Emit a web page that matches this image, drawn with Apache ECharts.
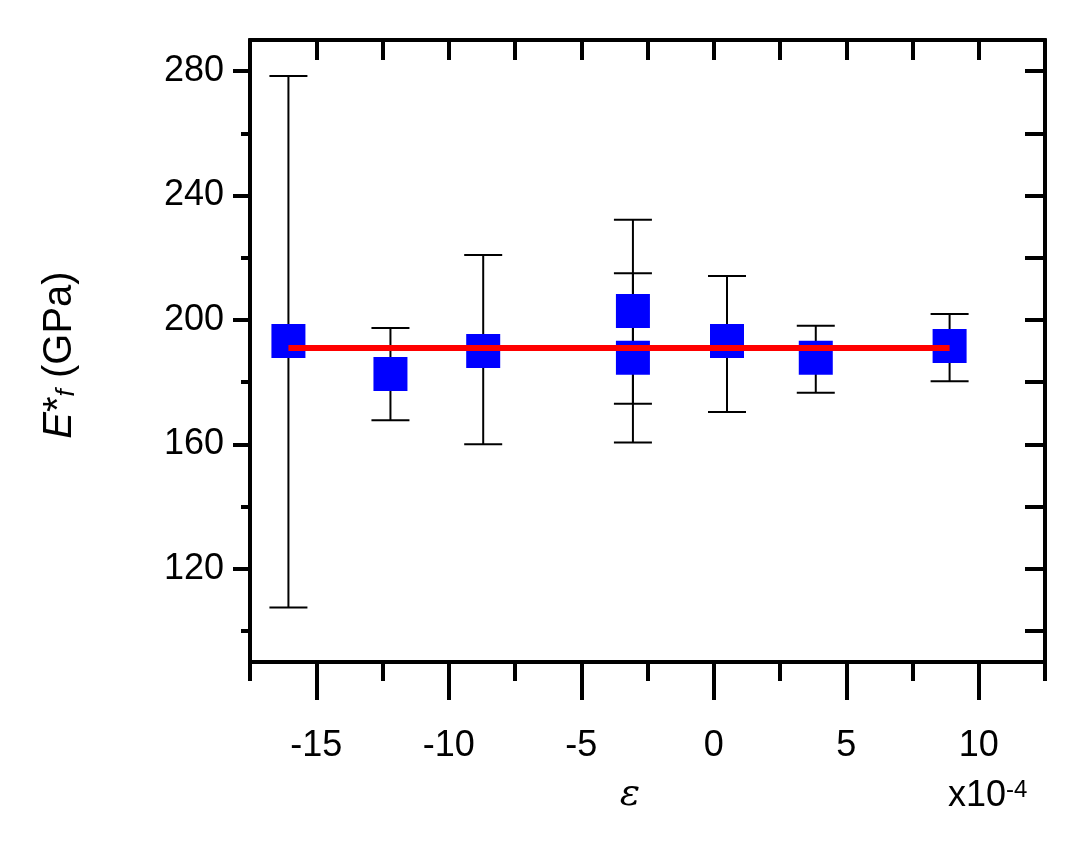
<!DOCTYPE html>
<html>
<head>
<meta charset="utf-8">
<script src="https://cdn.jsdelivr.net/npm/echarts@6/dist/echarts.min.js"></script>
<style>html,body{margin:0;padding:0;background:#fff}#main{width:1092px;height:854px}</style>
</head>
<body>
<div id="main"></div>
<script>
// strain (x10^-4), modulus (GPa), error bar ends
let strain = [-16.05, -12.2, -8.7, -3.05, -3.05, 0.5, 3.85, 8.9];
let modulus = [193.2, 182.6, 190.0, 202.9, 187.8, 193.2, 187.8, 191.6];
let errHigh = [278.4, 197.4, 220.9, 232.2, 215.0, 214.1, 198.1, 201.9];
let errLow = [107.5, 167.7, 160.0, 173.0, 160.6, 170.4, 176.6, 180.3];
let fitX = [-16.05, 8.9];
let fitY = [191, 191];
let xMajor = [-15, -10, -5, 0, 5, 10];
let xMinor = [-17.5, -12.5, -7.5, -2.5, 2.5, 7.5, 12.5];
let yMajor = [120, 160, 200, 240, 280];
let yMinor = [100, 140, 180, 220, 260];

let chart = echarts.init(document.getElementById('main'));
let font = 'Liberation Sans, Arial, sans-serif';
let mkAxis = function (pos, ticks, len, inside, labels, range) {
    return {
        type: 'value', position: pos, min: range[0], max: range[1],
        axisLine: {show: true, onZero: false, lineStyle: {color: '#000', width: 4}},
        axisTick: {show: true, customValues: ticks, length: len, inside: inside, lineStyle: {color: '#000', width: 4}},
        axisLabel: labels ? {show: true, customValues: ticks, color: '#000', fontSize: 36, fontFamily: font, margin: pos === 'bottom' ? 66 : 26} : {show: false},
        splitLine: {show: false}
    };
};
let xr = [-17.5, 12.5], yr = [90, 290];

chart.setOption({
    animation: false,
    grid: {left: 250, right: 47, top: 40, bottom: 192},
    xAxis: [
        mkAxis('bottom', xMajor, 38, false, true, xr),
        mkAxis('bottom', xMinor, 19, false, false, xr),
        mkAxis('top', xMajor, 20, true, false, xr),
        mkAxis('top', xMinor, 20, true, false, xr)
    ],
    yAxis: [
        mkAxis('left', yMajor, 17, false, true, yr),
        mkAxis('left', yMinor, 9, false, false, yr),
        mkAxis('right', yMajor, 20, true, false, yr),
        mkAxis('right', yMinor, 20, true, false, yr)
    ],
    graphic: [
        {type: 'text', x: 60, y: 355, rotation: Math.PI / 2, style: {
            text: '{e|E}{s|*}{f|f}{n| (GPa)}', align: 'center', verticalAlign: 'middle',
            rich: {
                e: {fontSize: 40, fontStyle: 'italic', fontFamily: font, fill: '#000'},
                s: {fontSize: 40, fontFamily: font, fill: '#000', verticalAlign: 'top'},
                f: {fontSize: 26, fontStyle: 'italic', fontFamily: font, fill: '#000', verticalAlign: 'bottom'},
                n: {fontSize: 40, fontFamily: font, fill: '#000'}
            }
        }},
        {type: 'text', x: 630, y: 795, style: {text: 'ε', fontSize: 38, fontStyle: 'italic', fontFamily: 'DejaVu Serif, serif', fill: '#000', align: 'center', verticalAlign: 'middle'}},
        {type: 'text', x: 948, y: 778, style: {
            text: '{a|x10}{b|-4}', rich: {
                a: {fontSize: 36, fontFamily: font, fill: '#000'},
                b: {fontSize: 24, fontFamily: font, fill: '#000', verticalAlign: 'top'}
            }
        }}
    ],
    series: [
        {
            type: 'custom', z: 2,
            data: strain.map((x, i) => [x, errLow[i], errHigh[i]]),
            renderItem: function (params, api) {
                let lo = api.coord([api.value(0), api.value(1)]);
                let hi = api.coord([api.value(0), api.value(2)]);
                let st = {stroke: '#000', lineWidth: 2};
                return {type: 'group', children: [
                    {type: 'line', shape: {x1: lo[0], y1: lo[1], x2: hi[0], y2: hi[1]}, style: st},
                    {type: 'line', shape: {x1: lo[0] - 19, y1: lo[1], x2: lo[0] + 19, y2: lo[1]}, style: st},
                    {type: 'line', shape: {x1: hi[0] - 19, y1: hi[1], x2: hi[0] + 19, y2: hi[1]}, style: st}
                ]};
            }
        },
        {
            type: 'scatter', z: 3, symbol: 'rect', symbolSize: 34,
            itemStyle: {color: '#0000ff', opacity: 1},
            data: strain.map((x, i) => [x, modulus[i]])
        },
        {
            type: 'line', z: 4, symbol: 'none',
            lineStyle: {color: '#ff0000', width: 6},
            data: fitX.map((x, i) => [x, fitY[i]])
        }
    ]
});
</script>
</body>
</html>
